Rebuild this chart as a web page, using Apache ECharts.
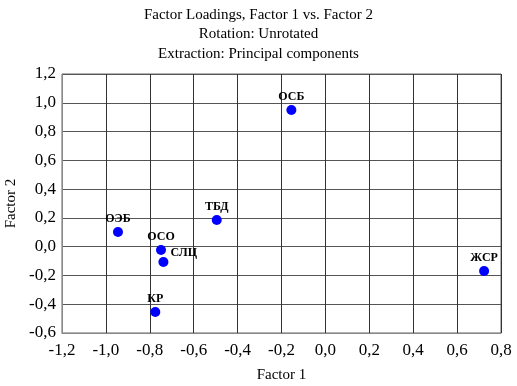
<!DOCTYPE html>
<html><head><meta charset="utf-8">
<script src="https://cdn.jsdelivr.net/npm/echarts@6/dist/echarts.min.js"></script>
<style>html,body{margin:0;padding:0;background:#fff}#c{width:517px;height:386px}</style>
</head><body><div id="c"></div>
<script>
var names = ['ОСБ','ЖСР','ОЭБ','ОСО','СЛЦ','ТБД','КР'];
var factor1 = [-0.155, 0.723, -0.945, -0.749, -0.738, -0.495, -0.775];
var factor2 = [0.95, -0.169, 0.102, -0.023, -0.106, 0.185, -0.454];
var titleLines = ['Factor Loadings, Factor 1 vs. Factor 2','Rotation: Unrotated','Extraction: Principal components'];

var font = 'Liberation Serif';
function fmt(v){ return v.toFixed(1).replace('.', ','); }
var data = names.map(function(n,i){
  var item = {name:n, value:[factor1[i], factor2[i]]};
  if (n === 'СЛЦ') item.label = {position:'right', offset:[0,-9]};
  return item;
});
var chart = echarts.init(document.getElementById('c'));
chart.setOption({
  animation:false,
  title:{text:titleLines.join('\n'), left:'center', top:0,
    textStyle:{fontFamily:font, fontSize:15, fontWeight:'normal', color:'#000', lineHeight:19.5}},
  grid:{left:62, right:16, top:74, bottom:53, show:true, borderColor:'#666', borderWidth:1, outerBoundsMode:'none', containLabel:false},
  xAxis:{type:'value', min:-1.2, max:0.8, interval:0.2, name:'Factor 1', nameLocation:'middle', nameGap:35,
    nameTextStyle:{fontFamily:font, fontSize:15, color:'#000'},
    axisLine:{show:true, onZero:false, lineStyle:{color:'#888'}}, axisTick:{show:false},
    axisLabel:{fontFamily:font, fontSize:17, color:'#000', margin:9, formatter:fmt},
    splitLine:{show:true, lineStyle:{color:'#333', width:1}}},
  yAxis:{type:'value', min:-0.6, max:1.2, interval:0.2, name:'Factor 2', nameLocation:'middle', nameGap:36,
    nameTextStyle:{fontFamily:font, fontSize:15, color:'#000'},
    axisLine:{show:true, onZero:false, lineStyle:{color:'#888'}}, axisTick:{show:false},
    axisLabel:{fontFamily:font, fontSize:17, color:'#000', margin:6, formatter:fmt},
    splitLine:{show:true, lineStyle:{color:'#555', width:1}}},
  series:[{type:'scatter', symbolSize:10, itemStyle:{color:'#0000ff', opacity:1},
    label:{show:true, position:'top', distance:2, formatter:'{b}', fontFamily:font, fontSize:12, fontWeight:'bold', color:'#000'},
    data:data}]
});
</script></body></html>
